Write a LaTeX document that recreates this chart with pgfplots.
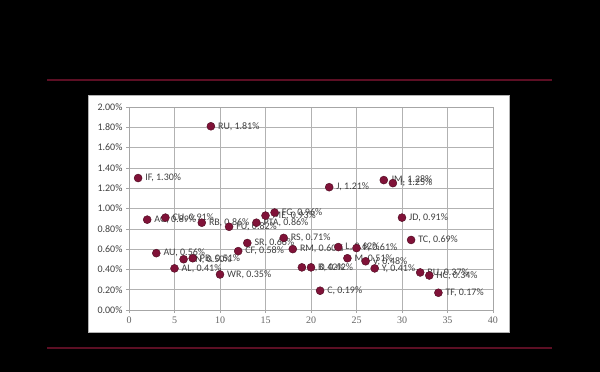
\documentclass[border=0pt]{standalone}
\usepackage{pgfplots}
\pgfplotsset{compat=1.18}
\usepackage{pgfplotstable}
\usepackage{fontspec}
\setmainfont{Carlito}
\newfontfamily\xfont{Liberation Serif}
\definecolor{mk}{HTML}{801238}
\definecolor{mkd}{HTML}{4A0A1F}
\definecolor{redline}{HTML}{5C0F24}
\definecolor{txt}{HTML}{404040}
\pgfplotstableread[col sep=semicolon]{
x;y;lab
1;1.30;IF
2;0.89;AG
3;0.56;AU
4;0.91;CU
5;0.41;AL
6;0.50;ZN
7;0.51;PB
8;0.86;RB
9;1.81;RU
10;0.35;WR
11;0.82;FU
12;0.58;CF
13;0.66;SR
14;0.86;PTA
15;0.93;ME
16;0.96;FG
17;0.71;RS
18;0.60;RM
19;0.42;A
20;0.42;B
21;0.19;C
22;1.21;J
23;0.62;L
24;0.51;M
25;0.61;P
26;0.48;V
27;0.41;Y
28;1.28;JM
29;1.25;I
30;0.91;JD
31;0.69;TC
32;0.37;BU
33;0.34;HC
34;0.17;TF
}\datatable
\begin{document}
\begin{tikzpicture}[x=1pt,y=1pt]
\fill[black] (0,0) rectangle (600,372);
\draw[redline, line width=1.6pt] (47,292) -- (552,292);
\draw[redline, line width=1.6pt] (47,24) -- (552,24);
\filldraw[fill=white, draw=gray!60, line width=0.5pt] (88,40) rectangle (509,277);
\begin{axis}[
  at={(129pt,62pt)}, anchor=south west,
  scale only axis, width=364pt, height=203pt,
  xmin=0, xmax=40, ymin=0, ymax=2,
  xtick={0,5,...,40}, ytick={0,0.2,...,2.01},
  grid=major,
  major grid style={gray!60, line width=0.5pt},
  axis line style={gray!70, line width=0.5pt},
  tick style={gray!70, line width=0.5pt},
  tick align=outside, major tick length=3pt,
  xtick pos=bottom, ytick pos=left,
  xticklabel={\xfont\pgfmathprintnumber[assume math mode=true]{\tick}},
  yticklabel={\pgfmathprintnumber[fixed,fixed zerofill,precision=2,assume math mode=true]{\tick}\%},
  xticklabel style={font=\fontsize{10}{11}\selectfont, text=gray!80!black},
  yticklabel style={font=\fontsize{10}{11}\selectfont, text=txt},
  clip=false,
]
\addplot[only marks, mark=*, mark size=4pt, mark options={fill=mk, draw=mkd, line width=0.4pt},
  point meta=explicit symbolic,
  visualization depends on={\thisrow{y} \as \yv},
  nodes near coords={\pgfplotspointmeta, \pgfmathprintnumber[fixed,fixed zerofill,precision=2,assume math mode=true]{\yv}\%},
  every node near coord/.append style={anchor=west, xshift=6pt, font=\fontsize{10}{11}\selectfont, text=txt, inner sep=1pt}
] table[x=x, y=y, meta=lab] {\datatable};
\end{axis}
\end{tikzpicture}
\end{document}
